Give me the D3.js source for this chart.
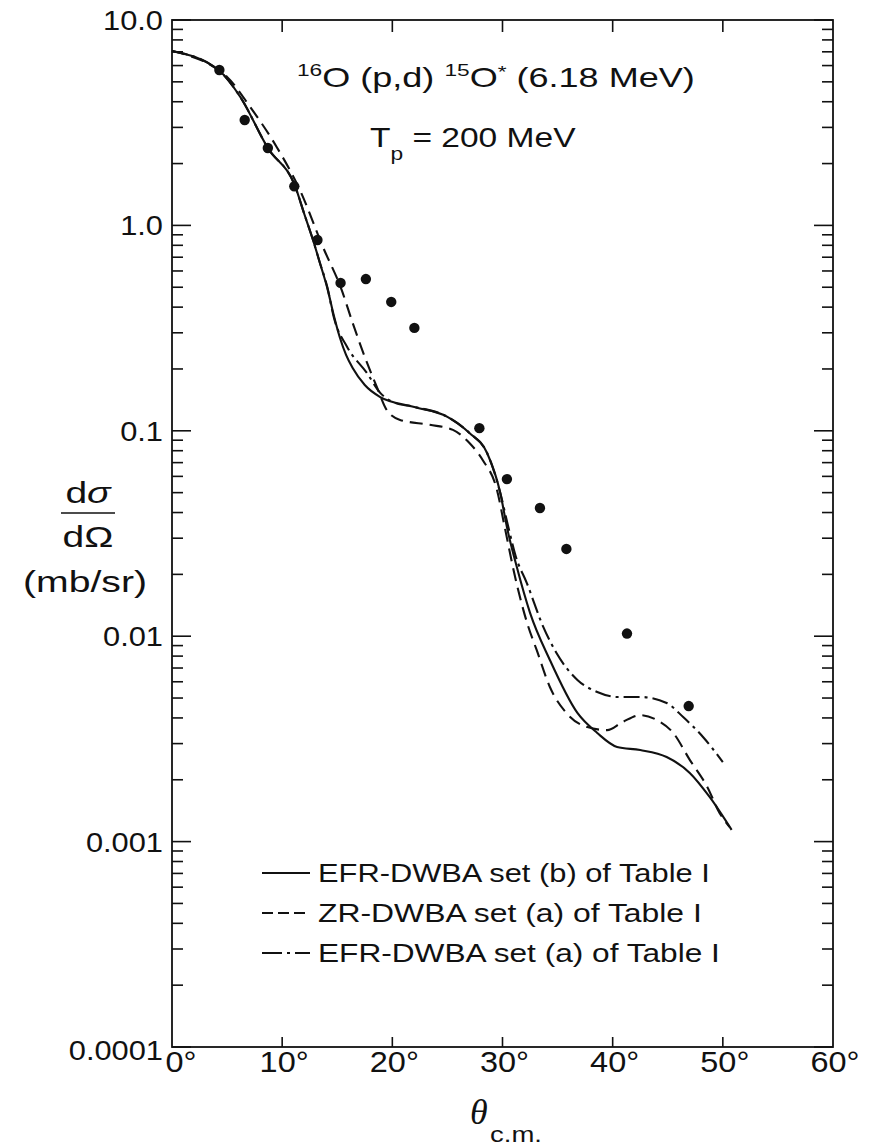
<!DOCTYPE html>
<html><head><meta charset="utf-8">
<script src="https://cdn.jsdelivr.net/npm/d3@7"></script>
<style>body{margin:0;background:#fff}svg{display:block}</style>
</head><body><svg id="c" width="874" height="1146"></svg>
<script>
// ---- data ----
const xTicks = [0, 10, 20, 30, 40, 50, 60];
const xTickLabels = ["0°", "10°", "20°", "30°", "40°", "50°", "60°"];
const yTicks = [10, 1, 0.1, 0.01, 0.001, 0.0001];
const yTickLabels = ["10.0", "1.0", "0.1", "0.01", "0.001", "0.0001"];

const dataTheta = [4.3, 6.6, 8.7, 11.1, 13.2, 15.3, 17.6, 19.9, 22.0, 27.9, 30.4, 33.4, 35.8, 41.3, 46.9];
const dataSigma = [5.71, 3.26, 2.38, 1.55, 0.849, 0.525, 0.548, 0.424, 0.317, 0.103, 0.0582, 0.0421, 0.0266, 0.0103, 0.00457];

const solidTheta = [0, 4.3, 6.2, 8.7, 11.2, 12.0, 12.8, 13.4, 14.1, 14.7, 15.25, 15.8, 16.4, 17.5, 18.9, 21.9, 25.0, 27.0, 28.6, 29.8, 30.4, 31.3, 32.5, 34.3, 36.8, 38.6, 40.4, 42.5, 44.9, 47.0, 48.8, 50.8];
const solidSigma = [7.06, 5.66, 4.22, 2.38, 1.54, 1.14, 0.849, 0.664, 0.495, 0.362, 0.283, 0.234, 0.202, 0.167, 0.146, 0.131, 0.117, 0.0976, 0.0780, 0.0498, 0.0340, 0.0217, 0.0130, 0.00766, 0.00423, 0.00338, 0.00289, 0.00279, 0.00258, 0.00216, 0.00165, 0.00114];

const dashedTheta = [0, 4.3, 5.0, 7.1, 9.5, 11.6, 13.7, 15.4, 16.4, 17.5, 18.6, 19.5, 20.7, 23.4, 25.5, 27.0, 28.2, 29.5, 30.2, 31.1, 32.3, 33.1, 34.3, 35.8, 37.7, 39.5, 40.9, 42.5, 44.0, 45.5, 47.0, 48.6, 49.7, 50.6];
const dashedSigma = [7.06, 5.66, 5.28, 3.77, 2.41, 1.49, 0.785, 0.485, 0.335, 0.229, 0.163, 0.126, 0.113, 0.107, 0.101, 0.0872, 0.0721, 0.0515, 0.0340, 0.0199, 0.0113, 0.00857, 0.00566, 0.00423, 0.00361, 0.00349, 0.00382, 0.00413, 0.00391, 0.00338, 0.00250, 0.00184, 0.00138, 0.00118];

const dashdotTheta = [0, 4.3, 6.2, 8.7, 11.2, 12.0, 12.8, 13.4, 14.1, 14.7, 15.9, 17.7, 18.9, 20.2, 21.9, 25.0, 27.0, 28.6, 29.8, 30.5, 31.2, 32.2, 33.7, 34.9, 36.8, 38.6, 40.4, 42.5, 44.9, 46.4, 48.2, 50.0];
const dashdotSigma = [7.06, 5.66, 4.22, 2.38, 1.54, 1.14, 0.849, 0.664, 0.50, 0.355, 0.256, 0.191, 0.153, 0.137, 0.131, 0.117, 0.0976, 0.0780, 0.0498, 0.0345, 0.0245, 0.0182, 0.0111, 0.00828, 0.00612, 0.00535, 0.00506, 0.00506, 0.00473, 0.00404, 0.00323, 0.00244];

const legendLabels = ["EFR-DWBA set (b) of Table I", "ZR-DWBA set (a) of Table I", "EFR-DWBA set (a) of Table I"];

// ---- layout ----
const L = 172, R = 833, T = 20, B = 1047;
const FONT = "'Liberation Sans', Arial, Helvetica, sans-serif";
const svg = d3.select("#c");
const x = d3.scaleLinear().domain([0, 60]).range([L, R]);
const y = d3.scaleLog().domain([0.0001, 10]).range([B, T]);

const styles = [
  {dash: null},
  {dash: "13,7"},
  {dash: "16,5,3,5"}
];

// stretch text horizontally about anchor point x0 so that its width equals target
function fitWidth(sel, x0, target) {
  const bb = sel.node().getBBox();
  const sx = target / bb.width;
  sel.attr("transform", `translate(${x0},0) scale(${sx},1) translate(${-x0},0)`);
}
function stretch(sel, x0, sx) {
  sel.attr("transform", `translate(${x0},0) scale(${sx},1) translate(${-x0},0)`);
}

// ---- frame ----
svg.append("rect").attr("x", L).attr("y", T).attr("width", R - L).attr("height", B - T)
  .attr("fill", "none").attr("stroke", "#111").attr("stroke-width", 1.8);

// y ticks (left & right, inward)
const allY = y.ticks();
allY.forEach(v => {
  const major = Math.abs(Math.log10(v) - Math.round(Math.log10(v))) < 1e-6;
  const len = major ? 19 : 11;
  const yy = y(v);
  svg.append("line").attr("x1", L).attr("x2", L + len).attr("y1", yy).attr("y2", yy)
    .attr("stroke", "#111").attr("stroke-width", 1.6);
  svg.append("line").attr("x1", R).attr("x2", R - len).attr("y1", yy).attr("y2", yy)
    .attr("stroke", "#111").attr("stroke-width", 1.6);
});
// x ticks top & bottom
xTicks.slice(1, -1).forEach(v => {
  svg.append("line").attr("x1", x(v)).attr("x2", x(v)).attr("y1", T).attr("y2", T + 12)
    .attr("stroke", "#111").attr("stroke-width", 1.6);
  svg.append("line").attr("x1", x(v)).attr("x2", x(v)).attr("y1", B).attr("y2", B - 10)
    .attr("stroke", "#111").attr("stroke-width", 1.6);
});

// y tick labels
yTicks.forEach((v, i) => {
  const t = svg.append("text").attr("x", 163).attr("y", y(v) + (i === yTicks.length - 1 ? 13 : 10))
    .attr("text-anchor", "end").attr("font-family", FONT).attr("font-size", 28)
    .attr("fill", "#111").text(yTickLabels[i]);
  stretch(t, 163, 1.1);
});
// x tick labels
xTicks.forEach((v, i) => {
  const cx = i === 0 ? 181 : x(v) + 2;
  const t = svg.append("text").attr("x", cx).attr("y", 1072)
    .attr("text-anchor", "middle").attr("font-family", FONT).attr("font-size", 29)
    .attr("fill", "#111").text(xTickLabels[i]);
  stretch(t, cx, 1.12);
});

// x axis label
svg.append("text").attr("x", 470).attr("y", 1124).attr("font-family", "'Liberation Serif', 'Times New Roman', serif")
  .attr("font-style", "italic").attr("font-size", 36).attr("fill", "#111").text("θ");
const cm = svg.append("text").attr("x", 490).attr("y", 1142).attr("font-family", FONT)
  .attr("font-size", 22).attr("fill", "#111").text("c.m.");
fitWidth(cm, 490, 52);

// y axis label
const yl1 = svg.append("text").attr("x", 88).attr("y", 503).attr("text-anchor", "middle")
  .attr("font-family", FONT).attr("font-size", 30).attr("fill", "#111");
yl1.append("tspan").text("d");
yl1.append("tspan").attr("font-style", "italic").text("σ");
stretch(yl1, 88, 1.3);
svg.append("line").attr("x1", 61).attr("x2", 115).attr("y1", 513).attr("y2", 513)
  .attr("stroke", "#111").attr("stroke-width", 1.6);
const yl2 = svg.append("text").attr("x", 88).attr("y", 547).attr("text-anchor", "middle")
  .attr("font-family", FONT).attr("font-size", 30).attr("fill", "#111").text("dΩ");
stretch(yl2, 88, 1.3);
const yl3 = svg.append("text").attr("x", 85).attr("y", 592).attr("text-anchor", "middle")
  .attr("font-family", FONT).attr("font-size", 30).attr("fill", "#111").text("(mb/sr)");
fitWidth(yl3, 85, 124);

// title
const tt = svg.append("text").attr("x", 297).attr("y", 87).attr("font-family", FONT)
  .attr("font-size", 27).attr("fill", "#111");
tt.append("tspan").attr("font-size", 17).attr("dy", -11).text("16");
tt.append("tspan").attr("dy", 11).text("O (p,d) ");
tt.append("tspan").attr("font-size", 17).attr("dy", -11).text("15");
tt.append("tspan").attr("dy", 11).text("O");
tt.append("tspan").attr("font-size", 17).attr("dy", -9).text("*");
tt.append("tspan").attr("dy", 9).text(" (6.18 MeV)");
fitWidth(tt, 297, 398);

const tp = svg.append("text").attr("x", 370).attr("y", 147).attr("font-family", FONT)
  .attr("font-size", 28).attr("fill", "#111");
tp.append("tspan").text("T");
tp.append("tspan").attr("font-size", 19).attr("dy", 13).text("p");
tp.append("tspan").attr("dy", -13).text(" = 200 MeV");
fitWidth(tp, 370, 206);

// ---- curves ----
const line = d3.line().x(d => x(d[0])).y(d => y(d[1])).curve(d3.curveMonotoneX);
const series = [
  d3.zip(solidTheta, solidSigma),
  d3.zip(dashedTheta, dashedSigma),
  d3.zip(dashdotTheta, dashdotSigma)
];
[2, 1, 0].forEach(i => {
  svg.append("path").attr("d", line(series[i])).attr("fill", "none")
    .attr("stroke", "#111").attr("stroke-width", 2.1)
    .attr("stroke-dasharray", styles[i].dash);
});

// data points
svg.selectAll("circle.pt").data(d3.zip(dataTheta, dataSigma)).enter().append("circle")
  .attr("class", "pt").attr("cx", d => x(d[0])).attr("cy", d => y(d[1])).attr("r", 5.2)
  .attr("fill", "#111");

// ---- legend ----
const legY = [873, 913, 953];
const legW = [392, 384, 402];
legendLabels.forEach((lab, i) => {
  svg.append("line").attr("x1", 262).attr("x2", 310).attr("y1", legY[i]).attr("y2", legY[i])
    .attr("stroke", "#111").attr("stroke-width", 2)
    .attr("stroke-dasharray", i === 1 ? "11,5" : (i === 2 ? "20,5,3,5" : null));
  const t = svg.append("text").attr("x", 318).attr("y", legY[i] + 9).attr("font-family", FONT)
    .attr("font-size", 25).attr("fill", "#111").text(lab);
  fitWidth(t, 318, legW[i]);
});
</script></body></html>
